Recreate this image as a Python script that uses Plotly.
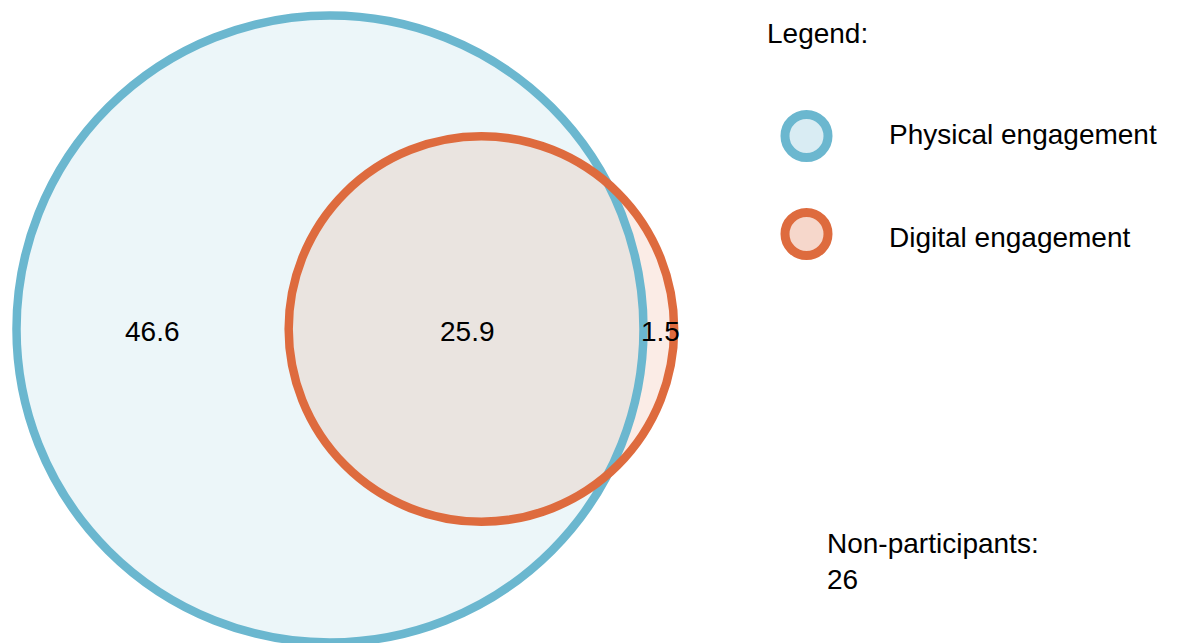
import math
import plotly.graph_objects as go

# ---- data ----
set_names = ["Physical engagement", "Digital engagement"]
only_physical = 46.6
both = 25.9
only_digital = 1.5
non_participants = 26

# ---- styles ----
BLUE = "rgb(107,183,207)"
ORANGE = "rgb(222,107,62)"
BLUE_FILL = "rgba(107,183,207,0.13)"
ORANGE_FILL = "rgba(222,107,62,0.13)"
BLUE_LEG = "rgba(107,183,207,0.26)"
ORANGE_LEG = "rgba(222,107,62,0.27)"
FONT = "Arial, 'Liberation Sans', Helvetica, sans-serif"
FS = 28
W, H = 1178, 643
OFF = 8             # page body margin offset
PX = 65.26          # pixels per data unit
CX_PX, CY_PX = 330 - OFF, 329 - OFF  # pixel position of big circle centre


def px_x(v):
    return (v - OFF) / W


def px_y(v):
    return 1 - (v - OFF) / H


# ---- area-proportional Venn geometry ----
area_a = only_physical + both
area_b = only_digital + both
r1 = math.sqrt(area_a / math.pi)
r2 = math.sqrt(area_b / math.pi)


def lens(d):
    if d >= r1 + r2:
        return 0.0
    if d <= abs(r1 - r2):
        return math.pi * min(r1, r2) ** 2
    a1 = r1 * r1 * math.acos((d * d + r1 * r1 - r2 * r2) / (2 * d * r1))
    a2 = r2 * r2 * math.acos((d * d + r2 * r2 - r1 * r1) / (2 * d * r2))
    a3 = 0.5 * math.sqrt((-d + r1 + r2) * (d + r1 - r2) * (d - r1 + r2) * (d + r1 + r2))
    return a1 + a2 - a3


lo, hi = abs(r1 - r2), r1 + r2
for _ in range(200):
    mid = (lo + hi) / 2
    if lens(mid) > both:
        lo = mid
    else:
        hi = mid
d = (lo + hi) / 2

c1 = (0.0, 0.0)
c2 = (d, 0.0)

xr = [-CX_PX / PX, (W - CX_PX) / PX]
yr = [-(H - CY_PX) / PX, CY_PX / PX]

fig = go.Figure()
fig.add_trace(go.Scatter(x=[xr[0], xr[1]], y=[yr[0], yr[1]], mode="markers",
                         marker=dict(opacity=0), hoverinfo="skip", showlegend=False))


def circ(c, r, fill, line, lw):
    return dict(type="circle", xref="x", yref="y",
                x0=c[0] - r, x1=c[0] + r, y0=c[1] - r, y1=c[1] + r,
                fillcolor=fill, line=dict(color=line, width=lw), layer="above")


shapes = [
    circ(c1, r1, BLUE_FILL, "rgba(0,0,0,0)", 0),
    circ(c2, r2, ORANGE_FILL, "rgba(0,0,0,0)", 0),
    circ(c1, r1, "rgba(0,0,0,0)", BLUE, 8.5),
    circ(c2, r2, "rgba(0,0,0,0)", ORANGE, 8.5),
]

# legend markers (paper-anchored, pixel-sized)
for yy, fillc, linec in [(136, BLUE_LEG, BLUE), (234, ORANGE_LEG, ORANGE)]:
    shapes.append(dict(type="circle", xref="paper", yref="paper",
                       xsizemode="pixel", ysizemode="pixel",
                       xanchor=px_x(806.5), yanchor=px_y(yy),
                       x0=-21.5, x1=21.5, y0=-21.5, y1=21.5,
                       fillcolor=fillc, line=dict(color=linec, width=9)))

# region label positions
left_a = c1[0] - r1
right_a = c1[0] + r1
left_b = c2[0] - r2
right_b = c2[0] + r2
labels = [
    ((left_a + left_b) / 2, only_physical),
    ((left_b + right_a) / 2 + 1 / PX, both),
    ((right_a + right_b) / 2 + 2 / PX, only_digital),
]
annotations = []
for x, v in labels:
    annotations.append(dict(x=x, y=-2 / PX, xref="x", yref="y", text=f"{v}", showarrow=False,
                            font=dict(family=FONT, size=FS, color="#000"),
                            xanchor="center", yanchor="middle"))

annotations.append(dict(x=px_x(765), y=px_y(34), xref="paper", yref="paper", text="Legend:",
                        showarrow=False, xanchor="left", yanchor="middle",
                        font=dict(family=FONT, size=FS, color="#000")))
for yy, name in [(135, set_names[0]), (237, set_names[1])]:
    annotations.append(dict(x=px_x(887), y=px_y(yy), xref="paper", yref="paper", text=name,
                            showarrow=False, xanchor="left", yanchor="middle",
                            font=dict(family=FONT, size=FS, color="#000")))
annotations.append(dict(x=px_x(825), y=px_y(561), xref="paper", yref="paper",
                        text=f"Non-participants:<br>{non_participants}",
                        showarrow=False, xanchor="left", yanchor="middle", align="left",
                        font=dict(family=FONT, size=FS, color="#000")))

fig.update_layout(
    width=W, height=H,
    margin=dict(l=0, r=0, t=0, b=0),
    paper_bgcolor="white", plot_bgcolor="white",
    xaxis=dict(range=xr, visible=False, fixedrange=True),
    yaxis=dict(range=yr, visible=False, fixedrange=True),
    shapes=shapes, annotations=annotations, showlegend=False,
)
fig.write_html("out.html", config={"displayModeBar": False})
